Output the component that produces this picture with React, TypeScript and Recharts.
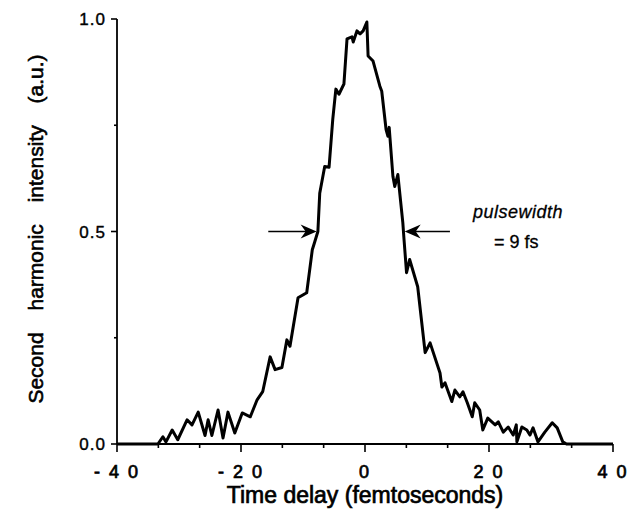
import { LineChart, Line, XAxis, YAxis, ReferenceLine } from "recharts"

// values
const delay = [
  -40, -33.4, -32.6, -32.1, -31.1, -30.2, -28.7, -27.9, -26.9, -25.8, -25.3, -24.7, -23.7, -22.9, -22.1, -21.0,
  -19.8, -18.5, -17.4, -16.5, -15.3, -14.5, -13.4, -12.6, -12.1, -10.8, -9.4, -8.5, -8.1, -7.6, -7.3, -6.5, -5.8,
  -5.2, -4.7, -4.2, -3.4, -2.9, -2.1, -1.9, -1.3, -0.8, -0.3, 0.3, 0.5, 1.3, 2.4, 2.7, 3.4, 3.7, 3.9, 4.5, 4.8, 5.3,
  6.1, 6.3, 6.7, 7.2, 8.5, 9.7, 10.5, 12.1, 12.4, 12.9, 14.0, 14.5, 15.3, 15.8, 16.5, 17.3, 17.7, 18.5, 19.0, 19.8,
  21.0, 21.5, 22.3, 23.1, 23.9, 24.4, 24.5, 25.3, 26.1, 26.6, 27.1, 27.9, 29.0, 30.2, 31.0, 31.9, 32.5, 40,
]
const intensity = [
  0, 0, 0.017, 0.005, 0.033, 0.01, 0.057, 0.045, 0.075, 0.02, 0.057, 0.02, 0.08, 0.014, 0.075, 0.026,
  0.073, 0.064, 0.104, 0.123, 0.205, 0.175, 0.18, 0.245, 0.23, 0.344, 0.356, 0.457, 0.476, 0.5, 0.59, 0.653, 0.651,
  0.764, 0.835, 0.823, 0.847, 0.953, 0.958, 0.946, 0.972, 0.965, 0.972, 0.993, 0.913, 0.901, 0.842, 0.83, 0.74, 0.724, 0.745, 0.63, 0.606, 0.634,
  0.521, 0.48, 0.403, 0.434, 0.37, 0.215, 0.238, 0.167, 0.134, 0.144, 0.1, 0.127, 0.111, 0.123, 0.097, 0.064, 0.097, 0.08, 0.033, 0.061,
  0.045, 0.052, 0.028, 0.04, 0.021, 0.045, 0.005, 0.04, 0.033, 0.021, 0.038, 0.005, 0.028, 0.05, 0.038, 0.005, 0, 0,
]

const xMajorTicks = [-40, -20, 0, 20, 40]
const xMajorLabels = ["- 4 0", "- 2 0", "0", "2 0", "4 0"]
const xMinorTicks = [-33.33, -26.67, -13.33, -6.67, 6.67, 13.33, 26.67, 33.33]
const yMajorTicks = [0, 0.5, 1]
const yMajorLabels = ["0.0", "0.5", "1.0"]
const yMinorTicks = [0.25, 0.75]

const data = delay.map((t, i) => ({ t, v: intensity[i] }))
const xTicks = [...xMajorTicks, ...xMinorTicks].sort((a, b) => a - b)
const yTicks = [...yMajorTicks, ...yMinorTicks].sort((a, b) => a - b)

const font = "'Liberation Sans', Arial, Helvetica, sans-serif"

function XTick({ x, y, payload }: any) {
  const idx = xMajorTicks.findIndex((m) => Math.abs(m - Number(payload.value)) < 1e-6)
  const major = idx >= 0
  return (
    <g>
      <line x1={x} x2={x} y1={y} y2={y + (major ? 8 : 4)} stroke="#000" strokeWidth={1.6} />
      {major && (
        <text
          x={x}
          y={y + 34}
          textAnchor="middle"
          fontFamily={font}
          fontSize={18}
          fill="#000"
          stroke="#000"
          strokeWidth={0.7}
          letterSpacing={2}
        >
          {xMajorLabels[idx]}
        </text>
      )}
    </g>
  )
}

function YTick({ x, y, payload }: any) {
  const idx = yMajorTicks.findIndex((m) => Math.abs(m - Number(payload.value)) < 1e-6)
  const major = idx >= 0
  return (
    <g>
      <line x1={x} x2={x - (major ? 6 : 3)} y1={y} y2={y} stroke="#000" strokeWidth={1.6} />
      {major && (
        <text
          x={x - 11}
          y={y + 6}
          textAnchor="end"
          fontFamily={font}
          fontSize={17}
          fill="#000"
          stroke="#000"
          strokeWidth={0.4}
          letterSpacing={1}
        >
          {yMajorLabels[idx]}
        </text>
      )}
    </g>
  )
}

function Arrow(props: any) {
  const { x1, y1, x2, y2 } = props
  const dir = x2 > x1 ? 1 : -1
  return (
    <g>
      <line x1={x1} y1={y1} x2={x2 - dir * 10} y2={y2} stroke="#000" strokeWidth={1.6} />
      <path
        d={`M${x2},${y2} L${x2 - dir * 16},${y2 - 7} L${x2 - dir * 11},${y2} L${x2 - dir * 16},${y2 + 7} Z`}
        fill="#000"
      />
    </g>
  )
}

export default function App() {
  return (
    <div style={{ position: "absolute", left: 0, top: 0, width: 629, height: 516, overflow: "hidden", background: "#fff" }}>
      <LineChart width={629} height={516} data={data} margin={{ top: 19, right: 16, left: 0, bottom: 0 }}>
        <XAxis
          dataKey="t"
          type="number"
          domain={[-40, 40]}
          ticks={xTicks}
          interval={0}
          height={72}
          tickSize={0}
          tickMargin={0}
          tickLine={false}
          axisLine={{ stroke: "#000", strokeWidth: 1.8 }}
          tick={<XTick />}
        />
        <YAxis
          type="number"
          domain={[0, 1]}
          ticks={yTicks}
          interval={0}
          width={117}
          tickSize={0}
          tickMargin={0}
          tickLine={false}
          axisLine={{ stroke: "#000", strokeWidth: 1.8 }}
          tick={<YTick />}
        />
        <ReferenceLine
          segment={[{ x: -15.6, y: 0.5 }, { x: -7.8, y: 0.5 }]}
          shape={<Arrow />}
          ifOverflow="visible"
        />
        <ReferenceLine
          segment={[{ x: 13.7, y: 0.5 }, { x: 6.4, y: 0.5 }]}
          shape={<Arrow />}
          ifOverflow="visible"
        />
        <Line
          type="linear"
          dataKey="v"
          stroke="#000"
          strokeWidth={3}
          strokeLinejoin="round"
          dot={false}
          isAnimationActive={false}
        />
      </LineChart>
      <div
        style={{
          position: "absolute",
          left: 473,
          top: 202,
          fontFamily: font,
          fontStyle: "italic",
          fontSize: 18,
          color: "#000",
          letterSpacing: 0.5,
          WebkitTextStroke: "0.3px #000",
        }}
      >
        pulsewidth
      </div>
      <div
        style={{
          position: "absolute",
          left: 494,
          top: 232,
          fontFamily: font,
          fontSize: 18,
          color: "#000",
          WebkitTextStroke: "0.3px #000",
        }}
      >
        = 9 fs
      </div>
      <div
        style={{
          position: "absolute",
          left: 185,
          top: 483,
          width: 360,
          lineHeight: "24px",
          whiteSpace: "nowrap",
          textAlign: "center",
          fontFamily: font,
          fontSize: 23,
          color: "#000",
          WebkitTextStroke: "0.7px #000",
        }}
      >
        Time delay (femtoseconds)
      </div>
      <div
        style={{
          position: "absolute",
          left: 36,
          top: 229,
          transform: "translate(-50%, -50%) rotate(-90deg)",
          whiteSpace: "nowrap",
          fontFamily: font,
          fontSize: 21,
          wordSpacing: 16,
          color: "#000",
          WebkitTextStroke: "0.6px #000",
        }}
      >
        Second harmonic intensity (a.u.)
      </div>
    </div>
  )
}
